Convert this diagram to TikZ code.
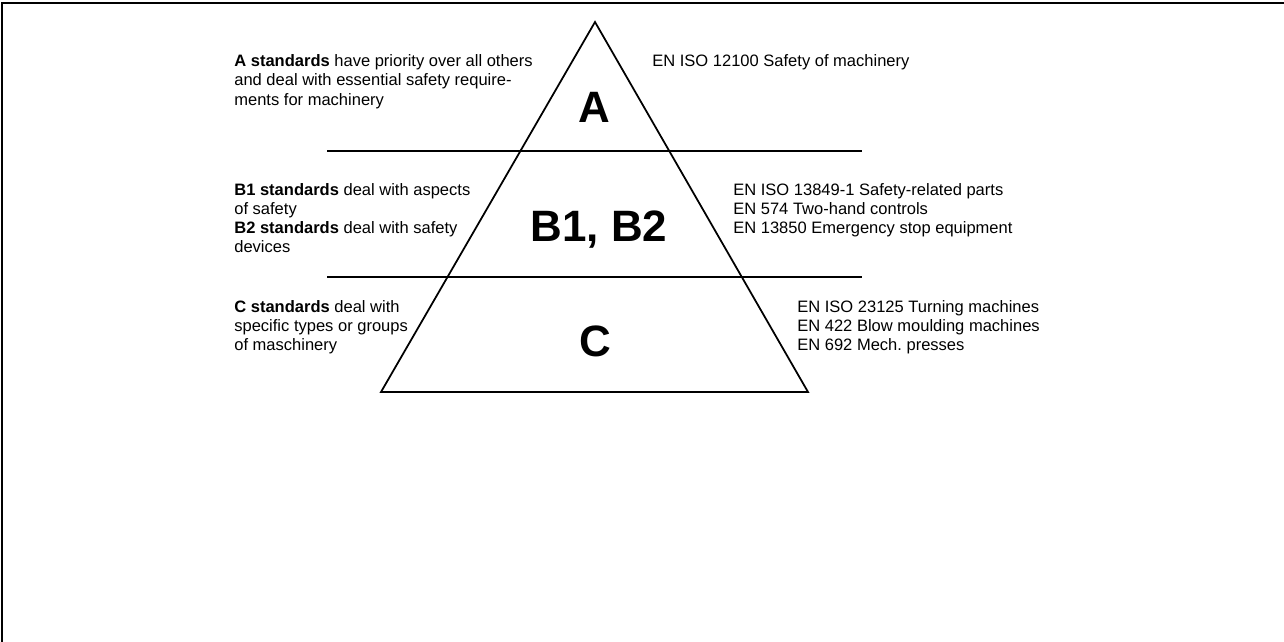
\documentclass[tikz,border=0pt]{standalone}
\usepackage{fontspec}
\setmainfont{Liberation Sans}

\begin{document}
\begin{tikzpicture}[
  font=\fontsize{9.4}{10.9}\selectfont,
  note/.style={anchor=base west, align=left, inner sep=0pt},
  level/.style={anchor=base, inner sep=0pt, font=\fontsize{25}{30}\selectfont\bfseries},
  edge/.style={line width=1pt, line join=miter},
  sep/.style={line width=1.1pt}
]
\useasboundingbox (0,0) rectangle (25.68,-12.84);
\draw[line width=0.9pt] (0.04,-12.84) -- (0.04,-0.06) -- (25.68,-0.06);

% pyramid
\coordinate (apex) at (11.9,-0.44);
\coordinate (bl) at (7.62,-7.84);
\coordinate (br) at (16.16,-7.84);
\draw[edge] (apex) -- (br) -- (bl) -- cycle;
\coordinate (ab-w) at (6.54,-3.02);
\coordinate (ab-e) at (17.24,-3.02);
\coordinate (bc-w) at (6.54,-5.54);
\coordinate (bc-e) at (17.24,-5.54);
\draw[sep] (ab-w) -- (ab-e);
\draw[sep] (bc-w) -- (bc-e);

\node[level] (lva) at (11.88,-2.44) {A};
\node[level] (lvb) at (11.98,-4.82) {B1, B2};
\node[level] (lvc) at (11.90,-7.12) {C};

% left: what the levels mean (base = last line)
\node[note] (da) at (4.68,-2.10) {\textbf{A standards} have priority over all others\\and deal with essential safety require-\\ments for machinery};
\node[note] (db) at (4.68,-5.05) {\textbf{B1 standards} deal with aspects\\of safety\\\textbf{B2 standards} deal with safety\\devices};
\node[note] (dc) at (4.68,-7.01) {\textbf{C standards} deal with\\specific types or groups\\of maschinery};

% right: examples
\node[note] (ea) at (13.04,-1.33) {EN ISO 12100 Safety of machinery};
\node[note] (eb) at (14.66,-4.67) {EN ISO 13849-1 Safety-related parts\\EN 574 Two-hand controls\\EN 13850 Emergency stop equipment};
\node[note] (ec) at (15.94,-7.01) {EN ISO 23125 Turning machines\\EN 422 Blow moulding machines\\EN 692 Mech.\ presses};
\end{tikzpicture}
\end{document}
